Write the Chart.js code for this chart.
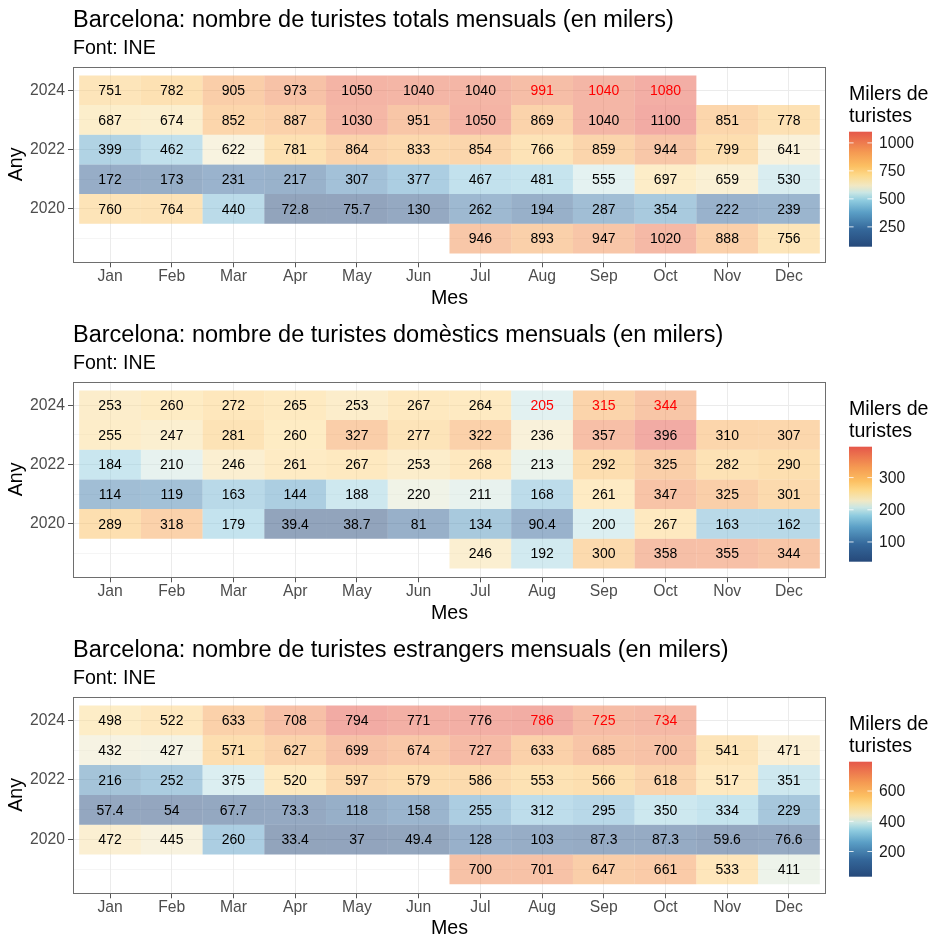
<!DOCTYPE html>
<html>
<head>
<meta charset="utf-8">
<script src="https://cdn.jsdelivr.net/npm/chart.js@4.4.1/dist/chart.umd.min.js"></script>
<style>
  body { margin: 0; background: #fff; }
  .panel { position: absolute; left: 0; width: 941px; height: 315px; }
</style>
</head>
<body>
<div class="panel" style="top:0px"><canvas id="c1"></canvas></div>
<div class="panel" style="top:315px"><canvas id="c2"></canvas></div>
<div class="panel" style="top:630px;height:316px"><canvas id="c3"></canvas></div>
<script>
var months = ['Jan', 'Feb', 'Mar', 'Apr', 'May', 'Jun', 'Jul', 'Aug', 'Sep', 'Oct', 'Nov', 'Dec'];
var years = [2019, 2020, 2021, 2022, 2023, 2024];

// one row per year (same order as years), Jan..Dec, null = no data
var totals = [
	[null, null, null, null, null, null, 946, 893, 947, 1020, 888, 756],
	[760, 764, 440, 72.8, 75.7, 130, 262, 194, 287, 354, 222, 239],
	[172, 173, 231, 217, 307, 377, 467, 481, 555, 697, 659, 530],
	[399, 462, 622, 781, 864, 833, 854, 766, 859, 944, 799, 641],
	[687, 674, 852, 887, 1030, 951, 1050, 869, 1040, 1100, 851, 778],
	[751, 782, 905, 973, 1050, 1040, 1040, 991, 1040, 1080, null, null]
];
var domestic = [
	[null, null, null, null, null, null, 246, 192, 300, 358, 355, 344],
	[289, 318, 179, 39.4, 38.7, 81, 134, 90.4, 200, 267, 163, 162],
	[114, 119, 163, 144, 188, 220, 211, 168, 261, 347, 325, 301],
	[184, 210, 246, 261, 267, 253, 268, 213, 292, 325, 282, 290],
	[255, 247, 281, 260, 327, 277, 322, 236, 357, 396, 310, 307],
	[253, 260, 272, 265, 253, 267, 264, 205, 315, 344, null, null]
];
var foreign = [
	[null, null, null, null, null, null, 700, 701, 647, 661, 533, 411],
	[472, 445, 260, 33.4, 37, 49.4, 128, 103, 87.3, 87.3, 59.6, 76.6],
	[57.4, 54, 67.7, 73.3, 118, 158, 255, 312, 295, 350, 334, 229],
	[216, 252, 375, 520, 597, 579, 586, 553, 566, 618, 517, 351],
	[432, 427, 571, 627, 699, 674, 727, 633, 685, 700, 541, 471],
	[498, 522, 633, 708, 794, 771, 776, 786, 725, 734, null, null]
];

var totalsTicks = [250, 500, 750, 1000];
var domesticTicks = [100, 200, 300];
var foreignTicks = [200, 400, 600];

// provisional values, printed in red: [year, month]
var redCells = [[2024, 8], [2024, 9], [2024, 10]];

var FONT = '"Liberation Sans", Arial, Helvetica, sans-serif';

var palette = [
	[0.00, '#26497a'],
	[0.15, '#34679a'],
	[0.30, '#5b9fc6'],
	[0.40, '#8ecbdf'],
	[0.47, '#c9e6e4'],
	[0.53, '#f1e8c4'],
	[0.62, '#fdd98a'],
	[0.70, '#fcc062'],
	[0.82, '#f59a52'],
	[1.00, '#e5574a']
];

function hexRgb(h) {
	return [parseInt(h.substr(1, 2), 16), parseInt(h.substr(3, 2), 16), parseInt(h.substr(5, 2), 16)];
}

function colourAt(t, alpha) {
	t = Math.max(0, Math.min(1, t));
	for (var i = 1; i < palette.length; i++) {
		if (t <= palette[i][0]) {
			var a = palette[i - 1], b = palette[i];
			var f = (t - a[0]) / (b[0] - a[0]);
			var ca = hexRgb(a[1]), cb = hexRgb(b[1]);
			var c = [0, 1, 2].map(function(k) { return Math.round(ca[k] + (cb[k] - ca[k]) * f); });
			return 'rgba(' + c[0] + ',' + c[1] + ',' + c[2] + ',' + alpha + ')';
		}
	}
	return palette[palette.length - 1][1];
}

function isRed(year, month) {
	return redCells.some(function(r) { return r[0] === year && r[1] === month; });
}

var heatPlugin = {
	id: 'heat',
	afterDatasetsDraw: function(chart) {
		var ctx = chart.ctx;
		var xs = chart.scales.x, ys = chart.scales.y;
		ctx.save();
		ctx.font = '14px ' + FONT;
		ctx.textAlign = 'center';
		ctx.textBaseline = 'middle';
		chart.data.datasets[0].data.forEach(function(d) {
			var year = (d.y[0] + d.y[1]) / 2;
			ctx.fillStyle = isRed(year, d.x) ? '#ff0000' : '#000000';
			ctx.fillText(String(d.v), xs.getPixelForValue(d.x), ys.getPixelForValue(year) + 1);
		});
		ctx.restore();
	},
	afterDraw: function(chart, args, opts) {
		var ctx = chart.ctx;
		var a = chart.chartArea;
		ctx.save();
		// panel border
		ctx.strokeStyle = '#6e6e6e';
		ctx.lineWidth = 1;
		ctx.strokeRect(Math.round(a.left) + 0.5, Math.round(a.top) + 0.5, Math.round(a.right - a.left) - 1, Math.round(a.bottom - a.top) - 1);

		// titles
		ctx.fillStyle = '#000000';
		ctx.textAlign = 'left';
		ctx.textBaseline = 'alphabetic';
		ctx.font = '23.5px ' + FONT;
		ctx.fillText(opts.title, a.left, 26.8);
		ctx.font = '19.6px ' + FONT;
		ctx.fillText('Font: INE', a.left, 54);

		// axis titles
		ctx.textAlign = 'center';
		ctx.fillText('Mes', (a.left + a.right) / 2, 304);
		ctx.save();
		ctx.translate(22, (a.top + a.bottom) / 2);
		ctx.rotate(-Math.PI / 2);
		ctx.fillText('Any', 0, 0);
		ctx.restore();

		// legend
		var lx = 849, lw = 23, top = 131.7, h = 115;
		ctx.textAlign = 'left';
		ctx.fillText('Milers de', lx, 100);
		ctx.fillText('turistes', lx, 122);
		var g = ctx.createLinearGradient(0, top + h, 0, top);
		palette.forEach(function(p) { g.addColorStop(p[0], p[1]); });
		ctx.fillStyle = g;
		ctx.fillRect(lx, top, lw, h);
		ctx.font = '15.7px ' + FONT;
		ctx.textBaseline = 'middle';
		opts.ticks.forEach(function(t) {
			var y = top + h - (t - opts.min) / (opts.max - opts.min) * h;
			ctx.strokeStyle = 'rgba(255,255,255,0.8)';
			ctx.lineWidth = 1;
			ctx.beginPath();
			ctx.moveTo(lx, y); ctx.lineTo(lx + 4.6, y);
			ctx.moveTo(lx + lw - 4.6, y); ctx.lineTo(lx + lw, y);
			ctx.stroke();
			ctx.fillStyle = '#1a1a1a';
			ctx.fillText(String(t), 879, y + 1);
		});
		ctx.restore();
	}
};

function makeChart(id, title, rows, legendTicks) {
	var cells = [];
	var all = [];
	rows.forEach(function(row, i) {
		row.forEach(function(v, j) {
			if (v === null) return;
			all.push(v);
			cells.push({ x: j + 1, y: [years[i] - 0.5, years[i] + 0.5], v: v });
		});
	});
	var min = Math.min.apply(null, all), max = Math.max.apply(null, all);

	var tickFont = { family: FONT, size: 15.7 };
	return new Chart(document.getElementById(id), {
		type: 'bar',
		data: {
			datasets: [{
				data: cells,
				backgroundColor: function(c) {
					return c.raw ? colourAt((c.raw.v - min) / (max - min), 0.5) : 'transparent';
				},
				borderWidth: 0,
				inflateAmount: 0,
				barPercentage: 1,
				categoryPercentage: 1
			}]
		},
		options: {
			responsive: true,
			maintainAspectRatio: false,
			animation: false,
			layout: { padding: { top: 66.5, right: 115, left: 0, bottom: 0 } },
			plugins: {
				legend: { display: false },
				tooltip: { enabled: false },
				heat: { title: title, ticks: legendTicks, min: min, max: max }
			},
			scales: {
				x: {
					type: 'linear',
					min: 0.4,
					max: 12.6,
					offset: false,
					afterBuildTicks: function(s) { s.ticks = months.map(function(m, i) { return { value: i + 1 }; }); },
					afterFit: function(s) { s.height = 52.7; },
					ticks: {
						autoSkip: false, maxRotation: 0, padding: 0,
						color: '#4d4d4d', font: tickFont,
						callback: function(v) { return months[v - 1]; }
					},
					grid: { offset: false, color: '#ebebeb', lineWidth: 1, tickColor: '#555555', tickLength: 5, tickWidth: 1 },
					border: { display: false }
				},
				y: {
					type: 'linear',
					min: 2018.2,
					max: 2024.8,
					beginAtZero: false,
					afterBuildTicks: function(s) { s.ticks = years.map(function(y) { return { value: y }; }); },
					afterFit: function(s) { s.width = 73; },
					ticks: {
						autoSkip: false, padding: 3,
						color: '#4d4d4d', font: tickFont,
						callback: function(v) { return v % 2 === 0 ? String(v) : ''; }
					},
					grid: {
						color: '#ebebeb',
						lineWidth: function(c) { return c.tick && c.tick.value % 2 ? 0.5 : 1; },
						tickColor: function(c) { return c.tick && c.tick.value % 2 ? 'rgba(0,0,0,0)' : '#555555'; },
						tickLength: 5,
						tickWidth: 1
					},
					border: { display: false }
				}
			}
		},
		plugins: [heatPlugin]
	});
}

makeChart('c1', 'Barcelona: nombre de turistes totals mensuals (en milers)', totals, totalsTicks);
makeChart('c2', 'Barcelona: nombre de turistes domèstics mensuals (en milers)', domestic, domesticTicks);
makeChart('c3', 'Barcelona: nombre de turistes estrangers mensuals (en milers)', foreign, foreignTicks);
</script>
</body>
</html>
